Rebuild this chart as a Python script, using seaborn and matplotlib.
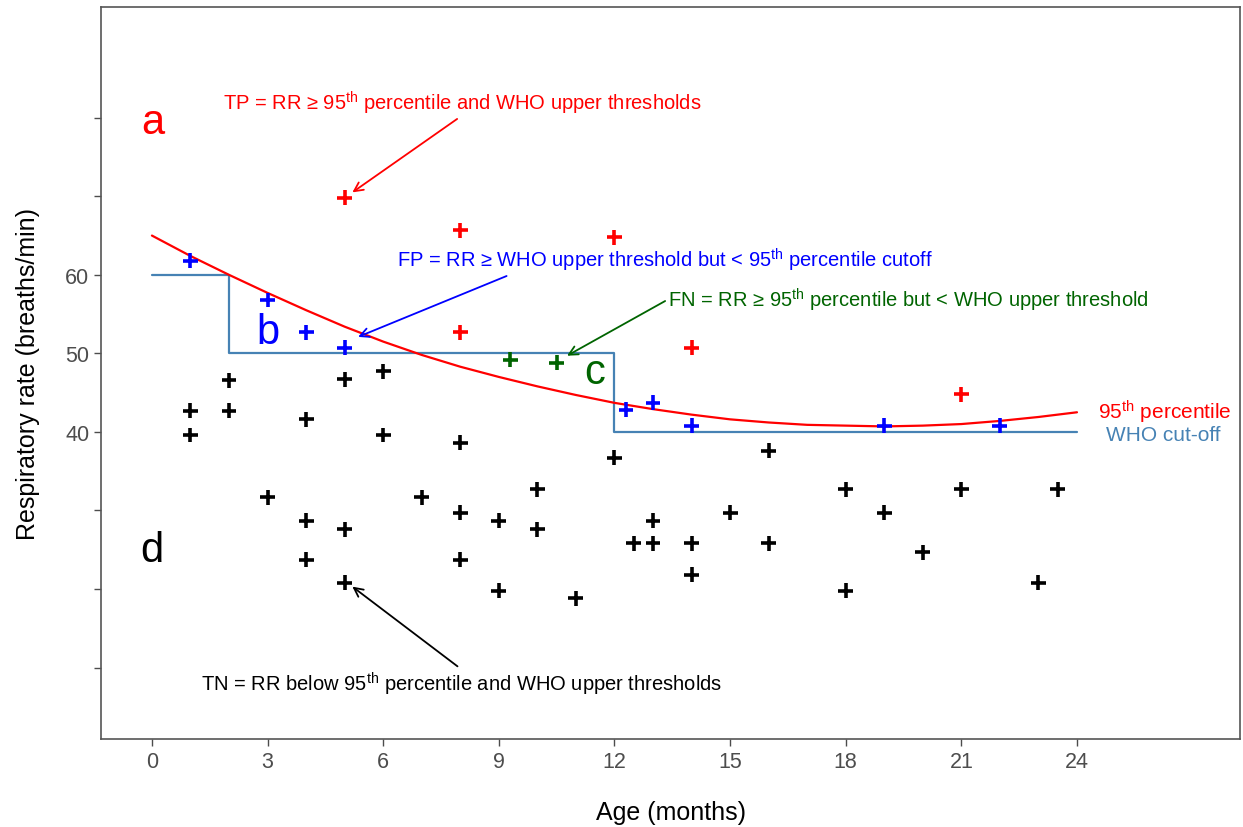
"""Respiratory rate vs age: 95th percentile curve against WHO cut-off."""

import matplotlib

matplotlib.use("Agg")

import matplotlib.pyplot as plt
import pandas as pd
import seaborn as sns

# --- data --------------------------------------------------------------------
tn_age = [1, 1, 2, 2, 3, 4, 4, 4, 5, 5, 5, 6, 6, 7, 8, 8, 8, 9, 9, 10, 10, 11,
          12, 12.5, 13, 13, 14, 14, 15, 16, 16, 18, 18, 19, 20, 21, 23, 23.5]
tn_rr = [42.7, 39.6, 46.6, 42.7, 31.7, 41.6, 28.7, 23.7, 46.7, 27.6, 20.8, 47.7,
         39.6, 31.7, 38.6, 29.7, 23.7, 28.7, 19.8, 32.7, 27.6, 18.8,
         36.7, 25.8, 25.8, 28.7, 25.8, 21.8, 29.7, 37.6, 25.8, 32.7, 19.8, 29.7,
         24.7, 32.7, 20.8, 32.7]

tp_age = [5, 8, 8, 12, 14, 21]
tp_rr = [69.8, 65.7, 52.7, 64.8, 50.7, 44.8]

fp_age = [1, 3, 4, 5, 12.3, 13, 14, 19, 22]
fp_rr = [61.8, 56.8, 52.7, 50.7, 42.8, 43.7, 40.8, 40.8, 40.8]

fn_age = [9.3, 10.5]
fn_rr = [49.2, 48.8]

pct_age = list(range(0, 25))
pct_rr = [65.0, 62.4, 60.0, 57.7, 55.5, 53.4, 51.5, 49.8, 48.3, 47.0, 45.8, 44.7,
          43.7, 42.9, 42.2, 41.6, 41.2, 40.9, 40.8, 40.7, 40.8, 41.0, 41.4, 41.9, 42.5]

who_age = [0, 2, 12, 24]
who_rr = [60, 50, 40, 40]

# --- styling ---------------------------------------------------------------
sns.set_style("ticks")
plt.rcParams["font.family"] = ["Liberation Sans", "DejaVu Sans"]
plt.rcParams["mathtext.fontset"] = "custom"
plt.rcParams["mathtext.rm"] = "Liberation Sans"
plt.rcParams["mathtext.it"] = "Liberation Sans:italic"

RED, BLUE, GREEN, BLACK, STEEL = "#FF0000", "#0000FF", "#006400", "#000000", "#4682B4"
TH = r"$^{\mathrm{th}}$"

points = pd.concat([
    pd.DataFrame({"age": tn_age, "rr": tn_rr, "group": "TN"}),
    pd.DataFrame({"age": tp_age, "rr": tp_rr, "group": "TP"}),
    pd.DataFrame({"age": fp_age, "rr": fp_rr, "group": "FP"}),
    pd.DataFrame({"age": fn_age, "rr": fn_rr, "group": "FN"}),
], ignore_index=True)
palette = {"TN": BLACK, "TP": RED, "FP": BLUE, "FN": GREEN}

fig = plt.figure(figsize=(12.43, 8.28), dpi=100)
ax = fig.add_axes([0.0813, 0.1063, 0.9163, 0.8840])

who = pd.DataFrame({"age": who_age, "rr": who_rr})
ax.step(who["age"], who["rr"], where="post", color=STEEL, lw=1.6, zorder=2)

sns.lineplot(x=pct_age, y=pct_rr, color=RED, lw=1.6, ax=ax, zorder=3)

sns.scatterplot(data=points, x="age", y="rr", hue="group", palette=palette,
                marker="+", s=115, linewidth=2.6, legend=False, ax=ax, zorder=4)

# quadrant letters
ax.text(0.03, 79.5, "a", color=RED, fontsize=30, ha="center", va="center")
ax.text(3.0, 52.7, "b", color=BLUE, fontsize=30, ha="center", va="center")
ax.text(11.5, 47.6, "c", color=GREEN, fontsize=30, ha="center", va="center")
ax.text(0.0, 24.9, "d", color=BLACK, fontsize=30, ha="center", va="center")

# annotations
arrow = dict(arrowstyle="->", lw=1.3, shrinkA=0, shrinkB=0, mutation_scale=16)
ax.annotate(f"TP = RR ≥ 95{TH} percentile and WHO upper thresholds",
            xy=(5.2, 70.5), xytext=(8.04, 82.0), color=RED, fontsize=14.5,
            ha="center", va="center", arrowprops={**arrow, "color": RED,
                                                  "relpos": (0.5, 0.0)})
ax.annotate(f"FP = RR ≥ WHO upper threshold but < 95{TH} percentile cutoff",
            xy=(5.35, 52.1), xytext=(13.3, 62.0), color=BLUE, fontsize=14.5,
            ha="center", va="center", arrowprops={**arrow, "color": BLUE,
                                                  "relpos": (0.22, 0.0)})
ax.annotate(f"FN = RR ≥ 95{TH} percentile but < WHO upper threshold",
            xy=(10.77, 49.7), xytext=(13.4, 56.9), color=GREEN, fontsize=14.5,
            ha="left", va="center", arrowprops={**arrow, "color": GREEN,
                                                "relpos": (0.0, 0.5)})
ax.annotate(f"TN = RR below 95{TH} percentile and WHO upper thresholds",
            xy=(5.2, 20.3), xytext=(8.04, 8.0), color=BLACK, fontsize=14.5,
            ha="center", va="center", arrowprops={**arrow, "color": BLACK,
                                                  "relpos": (0.5, 1.0)})

# line labels on the right
ax.text(24.55, 42.6, f"95{TH} percentile", color=RED, fontsize=15, ha="left", va="center")
ax.text(24.75, 39.7, "WHO cut-off", color=STEEL, fontsize=15, ha="left", va="center",
        family="Liberation Sans")

# axes
ax.set_xlim(-1.32, 28.23)
ax.set_ylim(0.9, 94.1)
ax.set_xticks(range(0, 25, 3))
ax.set_yticks(range(10, 90, 10))
ax.set_yticklabels(["" if v not in (40, 50, 60) else str(v) for v in range(10, 90, 10)])
ax.tick_params(labelsize=15.5, colors="#4D4D4D", length=5, width=1)
for spine in ax.spines.values():
    spine.set_visible(True)
    spine.set_color("#555555")
    spine.set_linewidth(1.2)
ax.set_xlabel("Age (months)", fontsize=18, labelpad=20, color="black")
ax.set_ylabel("Respiratory rate (breaths/min)", fontsize=18, labelpad=18, color="black")

fig.savefig("out.png", dpi=100)
plt.close(fig)
